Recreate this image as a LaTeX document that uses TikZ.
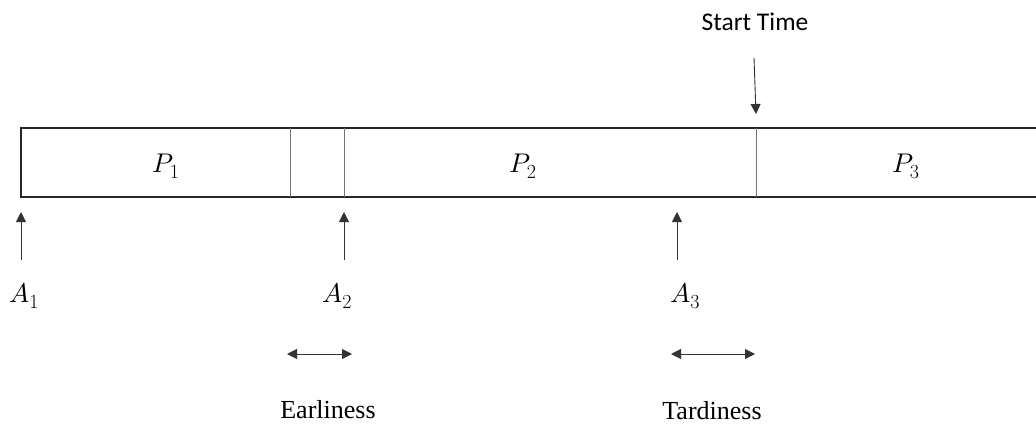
\documentclass[tikz,border=0pt]{standalone}
\usepackage{fontspec}
\usepackage{unicode-math}
\DeclareMathSizes{27}{27}{20}{15}
\newfontfamily\calib{Carlito}
\newfontfamily\tms{Liberation Serif}
\usetikzlibrary{arrows.meta}
\begin{document}
\begin{tikzpicture}[x=1pt,y=-1pt,
  boxline/.style={line width=1.4pt,draw=black!85},
  divline/.style={line width=0.8pt,draw=black!55},
  arr/.style={line width=0.9pt,draw=black!80,-{Triangle[length=10pt,width=10pt]}},
  darr/.style={line width=0.9pt,draw=black!80,{Triangle[length=10pt,width=10pt]}-{Triangle[length=10pt,width=10pt]}},
  mlab/.style={inner sep=0pt,anchor=base,font=\fontsize{27}{31}\selectfont},
  tlab/.style={inner sep=0pt,anchor=base,font=\tms\fontsize{26}{30}\selectfont}]
\useasboundingbox (0,0) rectangle (1036,424);
% box
\draw[boxline] (1036,128) -- (21,128) -- (21,197) -- (1036,197);
\draw[divline] (290,128) -- (290,197);
\draw[divline] (344,128) -- (344,197);
\draw[divline] (756,128) -- (756,197);
% labels in box
\node[mlab] (p1) at (166,172) {$P_{\mathrm{1}}$};
\node[mlab] (p2) at (523,172) {$P_{\mathrm{2}}$};
\node[mlab] (p3) at (906,172) {$P_{\mathrm{3}}$};
% start time
\node[inner sep=0pt,anchor=base,font=\calib\fontsize{25.5}{30}\selectfont] (st) at (755,30) {Start Time};
\coordinate (sta) at (754,58);
\coordinate (stb) at (756,114);
\draw[arr] (sta) -- (stb);
% arrival arrows
\coordinate (a1t) at (21,260); \coordinate (a1h) at (21,212);
\coordinate (a2t) at (344,260); \coordinate (a2h) at (344,212);
\coordinate (a3t) at (677,260); \coordinate (a3h) at (677,212);
\draw[arr] (a1t) -- (a1h);
\draw[arr] (a2t) -- (a2h);
\draw[arr] (a3t) -- (a3h);
\node[mlab] (a1) at (24,302) {$A_{\mathrm{1}}$};
\node[mlab] (a2) at (337,302) {$A_{\mathrm{2}}$};
\node[mlab] (a3) at (685,302) {$A_{\mathrm{3}}$};
% earliness / tardiness
\coordinate (e1) at (287,354); \coordinate (e2) at (352,354);
\coordinate (t1) at (671,354); \coordinate (t2) at (755,354);
\draw[darr] (e1) -- (e2);
\draw[darr] (t1) -- (t2);
\node[tlab] (earl) at (328,418) {Earliness};
\node[tlab] (tard) at (712,419) {Tardiness};
\end{tikzpicture}
\end{document}
